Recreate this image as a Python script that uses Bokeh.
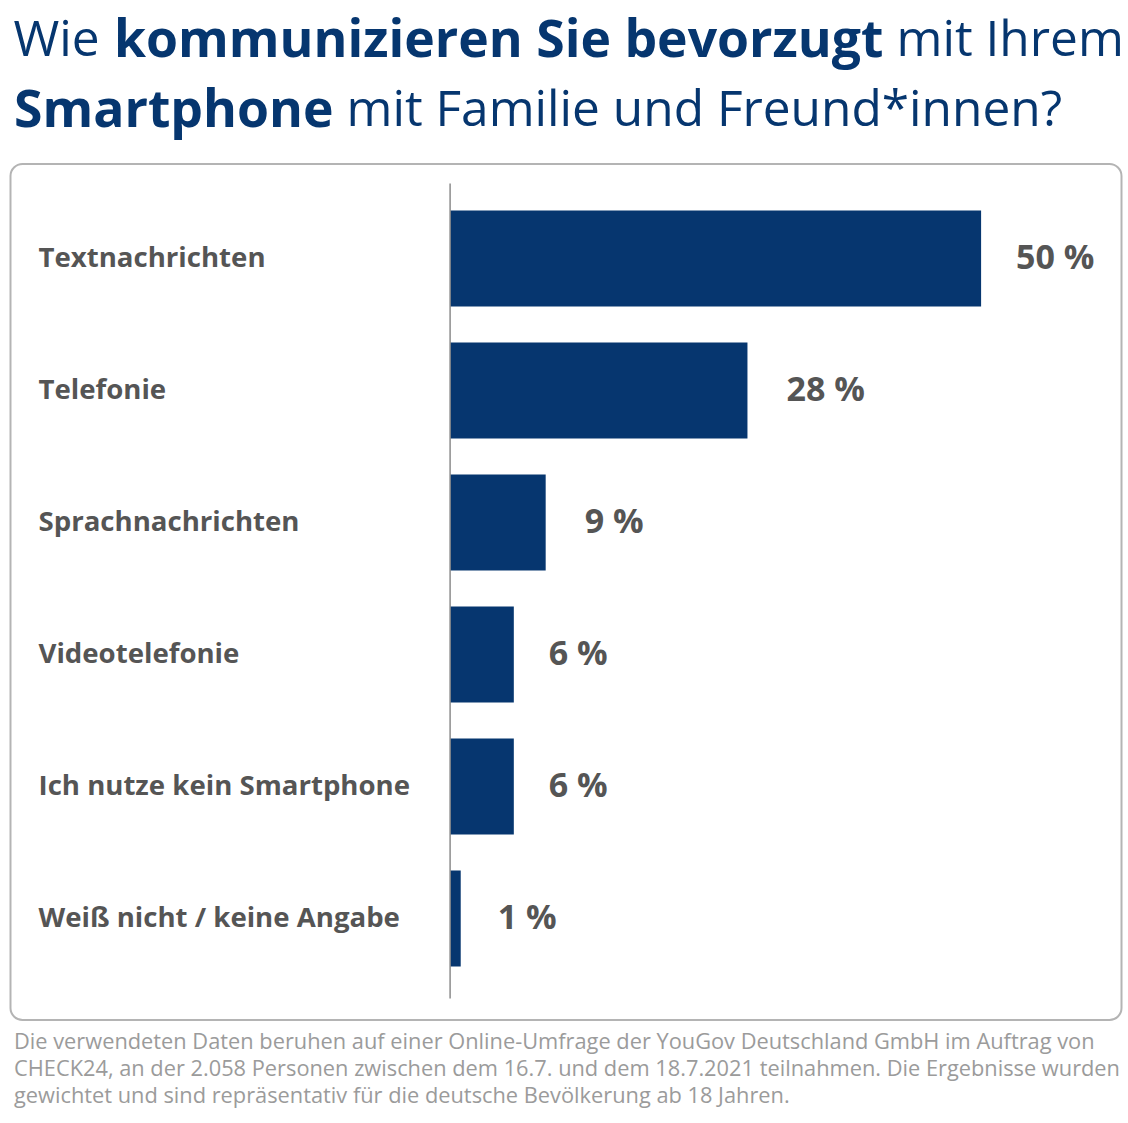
from bokeh.embed import file_html
from bokeh.resources import INLINE
from bokeh.plotting import figure
from bokeh.core.properties import value
from bokeh.models import ColumnDataSource, Range1d, Label, BoxAnnotation

categories = ["Textnachrichten", "Telefonie", "Sprachnachrichten", "Videotelefonie",
              "Ich nutze kein Smartphone", "Weiß nicht / keine Angabe"]
values = [50, 28, 9, 6, 6, 1]
value_labels = ["50 %", "28 %", "9 %", "6 %", "6 %", "1 %"]
positions = [0, 1, 2, 3, 4, 5]
footnote = ["Die verwendeten Daten beruhen auf einer Online-Umfrage der YouGov Deutschland GmbH im Auftrag von",
            "CHECK24, an der 2.058 Personen zwischen dem 16.7. und dem 18.7.2021 teilnahmen. Die Ergebnisse wurden",
            "gewichtet und sind repräsentativ für die deutsche Bevölkerung ab 18 Jahren."]

W, H = 1128, 1123
OX, OY = 0, 0
ZX = 449.6
PX_X, PX_Y = 10.62, 132.0
NAVY, GREY, LIGHT = "#06366f", "#555555", "#9b9b9b"
FONT = "Open Sans"

p = figure(width=W, height=H, output_backend="svg", toolbar_location=None,
           x_range=Range1d((OX - ZX) / PX_X, (OX + W - ZX) / PX_X),
           y_range=Range1d((OY + H - 258) / PX_Y, (OY - 258) / PX_Y),
           min_border=0, outline_line_color=None, background_fill_color="white",
           border_fill_color="white")
p.axis.visible = False
p.grid.visible = False

def lab(x, y, text, size, color, bold=False, font=FONT):
    y = y - 0.425 * size
    p.add_layout(Label(x=x - OX, y=H - (y - OY), x_units="screen", y_units="screen", text=text,
                       text_font=font, text_font_size=f"{size}px", text_color=color,
                       text_font_style="bold" if bold else "normal",
                       text_baseline="alphabetic", text_align="left"))

p.add_layout(BoxAnnotation(left=10 - OX, right=1121 - OX, top=H - (163.5 - OY), bottom=H - (1019.5 - OY),
                           left_units="screen", right_units="screen", top_units="screen", bottom_units="screen",
                           fill_color="white", fill_alpha=1, line_color="#b4b4b4", line_alpha=1, line_width=2,
                           border_radius=12, level="underlay"))

src = ColumnDataSource(dict(cat=categories, val=values, lab=value_labels, y=positions,
                            zero=[0] * 6, lx=[(38 - ZX) / PX_X] * 6,
                            vx=[v + g / PX_X for v, g in zip(values, [35, 39, 39, 35, 35, 37])]))
p.hbar(y="y", left="zero", right="val", height=96 / PX_Y, source=src, fill_color=NAVY, line_color=None)
p.segment(x0=[0], x1=[0], y0=[(183 - 258) / PX_Y], y1=[(998 - 258) / PX_Y], line_color="#8c8c8c", line_width=1.5)
p.text(x="lx", y="y", text="cat", source=src, text_font=value(FONT), text_font_style="bold",
       text_font_size="27.6px", y_offset=-2.5, text_color=GREY, text_baseline="middle", text_align="left")
p.text(x="vx", y="y", text="lab", source=src, text_font=value(FONT), text_font_style="bold",
       text_font_size="34px", y_offset=-2.5, text_color=GREY, text_baseline="middle", text_align="left")

lab(13, 58, "Wie", 49.6, NAVY)
lab(113.5, 58, "kommunizieren Sie bevorzugt", 51.7, NAVY, True)
lab(896, 58, "mit Ihrem", 49.6, NAVY)
lab(13.5, 128, "Smartphone", 51.7, NAVY, True)
lab(346, 128, "mit Familie und Freund*innen?", 49.6, NAVY)
for i, line in enumerate(footnote):
    lab(13.5, 1049 + i * 27.2, line, 21.8, LIGHT)

open("out.html", "w").write(file_html(p, INLINE))
